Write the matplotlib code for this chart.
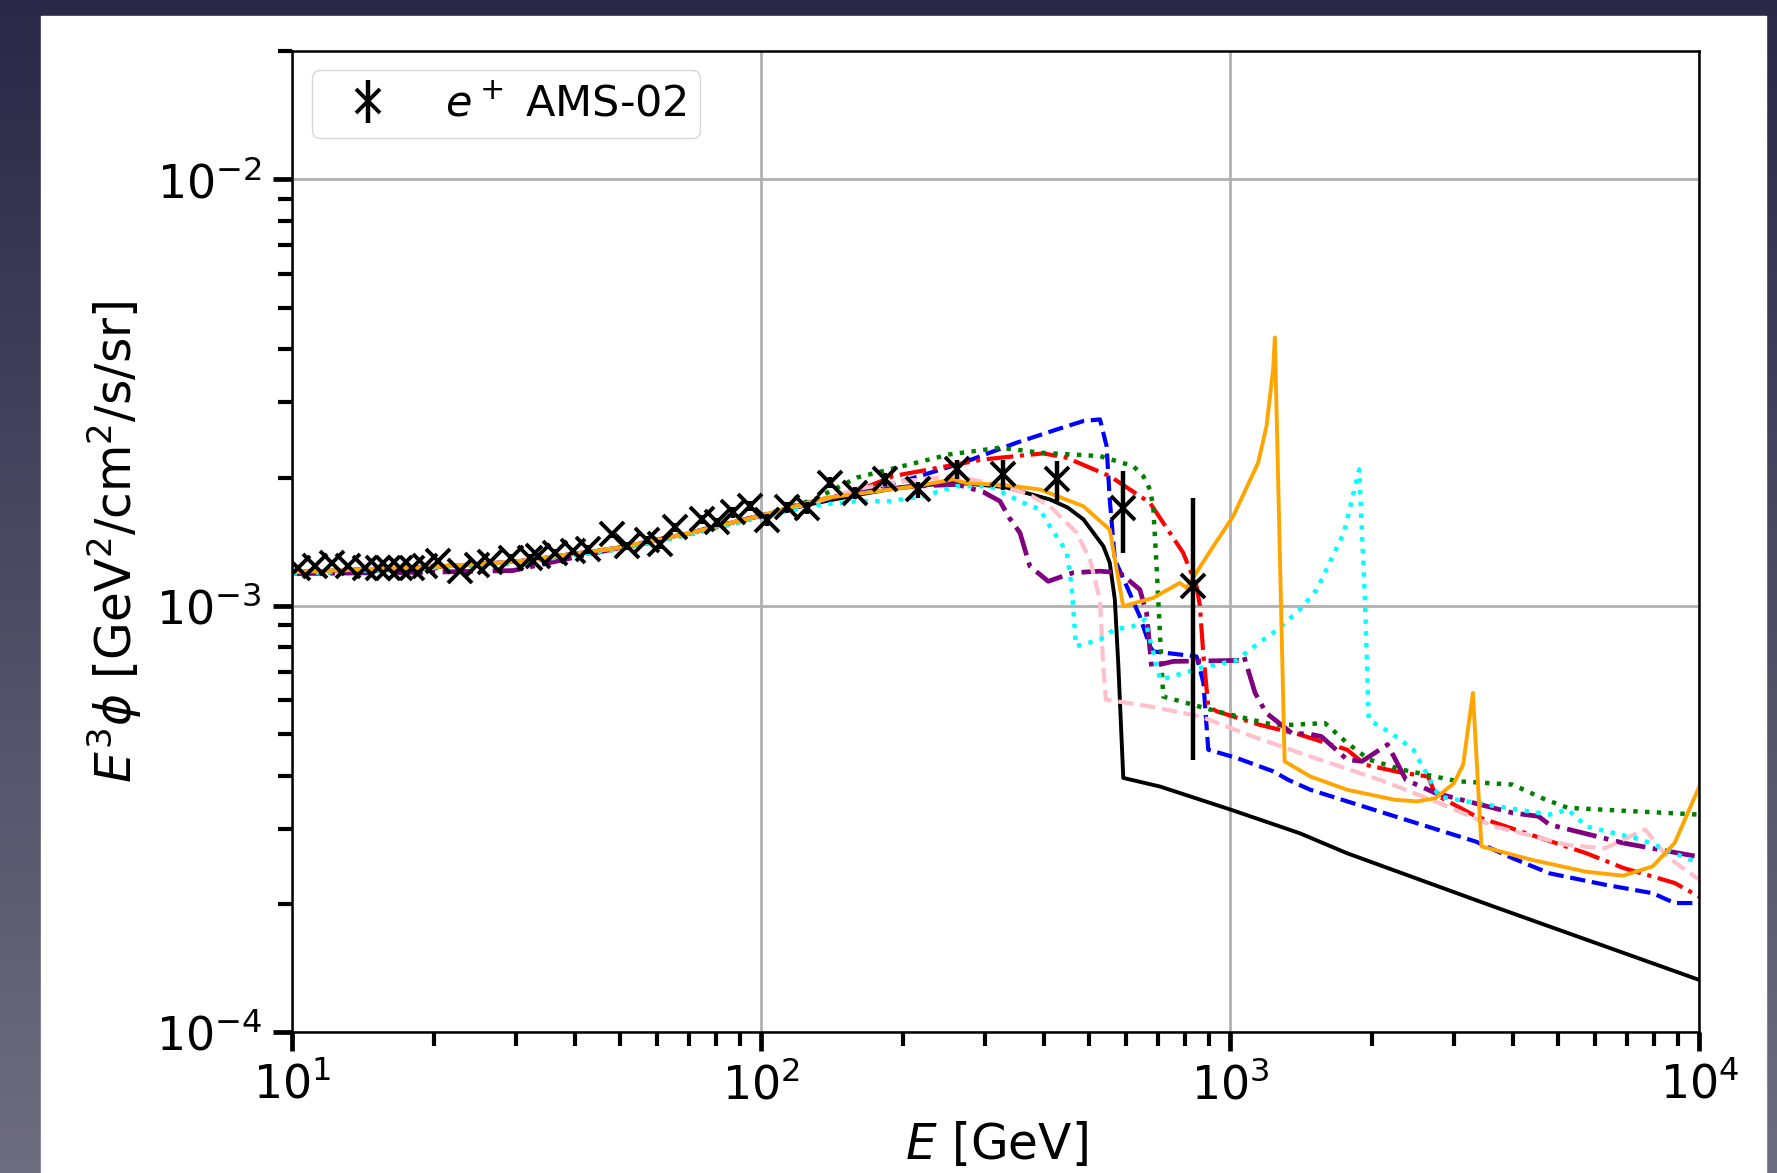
import matplotlib
matplotlib.use("Agg")
import matplotlib.pyplot as plt
import numpy as np
from matplotlib.patches import Rectangle

# AMS-02 positron points (E in GeV, E^3 phi in 1e-3 GeV^2/cm^2/s/sr)
ams_e = [10.29, 11.17, 12.12, 13.15, 14.28, 15.21, 15.98, 16.95, 17.95, 19.17,
         20.43, 22.76, 24.71, 26.37, 29.3, 32.1, 33.4, 36.3, 39.6, 42.7,
         47.9, 51.6, 56.9, 60.8, 65.4, 74.6, 80.3, 86.9, 94.5, 102.6,
         113.2, 124.9, 140.0, 158.3, 183.4, 216.0, 260.8, 327.8, 426.0, 588.9,
         830.6]
ams_phi = [1.230, 1.239, 1.262, 1.239, 1.230, 1.230, 1.230, 1.230, 1.230, 1.239,
           1.273, 1.206, 1.250, 1.264, 1.298, 1.298, 1.307, 1.334, 1.343, 1.356,
           1.471, 1.380, 1.430, 1.393, 1.527, 1.595, 1.569, 1.656, 1.713, 1.590,
           1.701, 1.700, 1.945, 1.842, 1.980, 1.875, 2.089, 2.033, 1.980, 1.698,
           1.112]
ams_err_lo = [0.02, 0.02, 0.02, 0.02, 0.02, 0.02, 0.02, 0.02, 0.02, 0.02,
              0.02, 0.02, 0.02, 0.02, 0.025, 0.025, 0.025, 0.025, 0.025, 0.03,
              0.03, 0.03, 0.03, 0.035, 0.035, 0.04, 0.04, 0.045, 0.045, 0.05,
              0.05, 0.055, 0.06, 0.06, 0.07, 0.08, 0.11, 0.16, 0.22, 0.37,
              0.676]
ams_err_hi = [0.02, 0.02, 0.02, 0.02, 0.02, 0.02, 0.02, 0.02, 0.02, 0.02,
              0.02, 0.02, 0.02, 0.02, 0.025, 0.025, 0.025, 0.025, 0.025, 0.03,
              0.03, 0.03, 0.03, 0.035, 0.035, 0.04, 0.04, 0.045, 0.045, 0.05,
              0.05, 0.055, 0.06, 0.06, 0.07, 0.08, 0.11, 0.17, 0.205, 0.37,
              0.68]

black_e = [10, 20, 30, 50, 70, 100, 130, 160, 200, 260, 330, 412, 450, 486, 536,
           553, 567, 577, 591, 708, 1000, 1406, 1774, 3653, 10000]
black_phi = [1.20, 1.235, 1.27, 1.37, 1.48, 1.63, 1.74, 1.82, 1.90, 1.945, 1.90,
             1.777, 1.70, 1.595, 1.38, 1.262, 1.035, 0.721, 0.395, 0.377, 0.333,
             0.293, 0.263, 0.197, 0.1327]

blue_e = [10, 20, 30, 50, 70, 100, 130, 160, 200, 269, 350, 430, 486, 527, 544.5,
          553, 567, 601, 641, 673.5, 684.5, 847, 876, 897, 1031, 1236, 1328, 1481,
          2125, 3339, 4000, 4791, 6280, 7950, 8857, 10000]
blue_phi = [1.20, 1.235, 1.27, 1.37, 1.48, 1.63, 1.75, 1.86, 1.96, 2.166, 2.413,
            2.60, 2.713, 2.737, 2.37, 1.777, 1.284, 1.112, 0.945, 0.804, 0.782,
            0.761, 0.66, 0.46, 0.44, 0.409, 0.391, 0.3705, 0.327, 0.280, 0.256,
            0.236, 0.222, 0.212, 0.201, 0.201]

red_e = [10, 20, 30, 50, 70, 100, 130, 160, 191, 297, 399, 447.5, 553, 673.5, 793,
         847, 861, 875, 897, 935, 1156, 1406, 1774, 1941, 2326, 2640, 2737, 3339,
         4377, 5741, 6879, 8857, 10000]
red_phi = [1.20, 1.235, 1.27, 1.37, 1.48, 1.63, 1.75, 1.86, 2.015, 2.205, 2.278,
           2.225, 2.015, 1.745, 1.332, 1.112, 1.00, 0.776, 0.581, 0.566, 0.526,
           0.499, 0.46, 0.424, 0.406, 0.398, 0.361, 0.321, 0.2905, 0.263, 0.243,
           0.224, 0.208]

green_e = [10, 20, 30, 50, 70, 100, 130, 160, 194, 252, 322.5, 392.6, 527, 620.6,
           652, 673.5, 684.5, 696, 707.5, 719, 806.5, 935, 1236, 1339, 1591, 1774,
           1977, 2326, 3050, 4000, 4624, 5245, 10000]
green_phi = [1.19, 1.225, 1.26, 1.36, 1.47, 1.62, 1.78, 2.0, 2.109, 2.266, 2.349,
             2.287, 2.245, 2.127, 2.015, 1.875, 1.713, 1.239, 0.864, 0.613, 0.592,
             0.566, 0.526, 0.526, 0.531, 0.477, 0.436, 0.413, 0.388, 0.381, 0.354,
             0.336, 0.324]

purple_e = [10, 20, 29.5, 40, 50, 70, 100, 130, 160, 214, 260.8, 297, 322.5, 338.8,
            355.8, 373.6, 408.8, 462, 527, 581, 641, 662.5, 679, 755, 1048, 1069,
            1129, 1192, 1352, 1481, 1563, 1774, 1908, 2164, 2368, 2737, 4000, 4540,
            4791, 6879, 8238, 10000]
purple_phi = [1.19, 1.20, 1.21, 1.30, 1.37, 1.48, 1.63, 1.76, 1.85, 1.909, 1.927,
              1.85, 1.76, 1.60, 1.484, 1.239, 1.142, 1.196, 1.206, 1.196, 1.092,
              0.963, 0.721, 0.741, 0.745, 0.761, 0.625, 0.561, 0.503, 0.50, 0.494,
              0.436, 0.432, 0.473, 0.391, 0.364, 0.327, 0.321, 0.307, 0.278, 0.268,
              0.258]

pink_e = [10, 20, 30, 50, 70, 100, 130, 160, 200, 260.8, 327.8, 370, 412, 470,
          501.6, 527, 535.6, 542.6, 673.5, 861, 1118, 1406, 2125, 2786, 3653, 5245,
          6280, 6879, 7663, 8543, 10000]
pink_phi = [1.20, 1.235, 1.27, 1.37, 1.48, 1.63, 1.75, 1.88, 1.96, 2.015, 1.909,
            1.83, 1.713, 1.484, 1.284, 1.035, 0.721, 0.603, 0.581, 0.551, 0.494,
            0.452, 0.388, 0.345, 0.304, 0.275, 0.270, 0.283, 0.299, 0.258, 0.228]

cyan_e = [10, 20, 30, 50, 70, 100, 130, 160, 188, 221, 260.8, 307, 361.6, 392.6,
          412, 447.5, 458.6, 468.5, 527, 565, 620.6, 657, 709, 888, 1031, 1100,
          1260, 1406, 1528, 1746, 1882, 1936, 1972, 2203, 2455, 2640, 2786, 3339,
          4791, 5245, 5741, 7530, 10000]
cyan_phi = [1.19, 1.23, 1.26, 1.36, 1.47, 1.62, 1.72, 1.76, 1.76, 1.808, 1.909,
            1.909, 1.745, 1.683, 1.538, 1.34, 1.112, 0.804, 0.833, 0.88, 0.896,
            0.929, 0.671, 0.721, 0.745, 0.79, 0.88, 0.98, 1.092, 1.484, 2.089,
            1.035, 0.541, 0.503, 0.46, 0.398, 0.357, 0.345, 0.324, 0.333, 0.304,
            0.283, 0.249]

orange_e = [10, 20, 30, 50, 70, 100, 137.7, 214, 256.5, 274, 330, 392.6, 485.6,
            553, 572, 590.8, 684.5, 780, 806.5, 900, 1014, 1146, 1194, 1234, 1244,
            1305, 1481, 1774, 2242, 2500, 2737, 2997, 3135, 3290, 3430, 4377, 5741,
            6879, 7950, 8857, 10000]
orange_phi = [1.20, 1.235, 1.27, 1.37, 1.48, 1.63, 1.793, 1.909, 1.98, 1.94, 1.92,
              1.875, 1.713, 1.51, 1.217, 0.998, 1.044, 1.132, 1.102, 1.33, 1.623,
              2.166, 2.64, 3.6, 4.26, 0.432, 0.398, 0.3705, 0.351, 0.348, 0.354,
              0.384, 0.424, 0.625, 0.273, 0.254, 0.238, 0.233, 0.245, 0.278, 0.377]

curves = [
    (black_e, black_phi, "black", "-", 2.8),
    (blue_e, blue_phi, "blue", "--", 3.0),
    (red_e, red_phi, "red", "-.", 3.0),
    (green_e, green_phi, "green", ":", 3.2),
    (purple_e, purple_phi, "purple", "-.", 3.4),
    (pink_e, pink_phi, "pink", "--", 3.0),
    (cyan_e, cyan_phi, "cyan", ":", 3.2),
    (orange_e, orange_phi, "orange", "-", 2.8),
]

fig = plt.figure(figsize=(17.77, 11.73), dpi=100)

# slide-like backdrop with white paper
bg = fig.add_axes([0, 0, 1, 1])
bg.set_zorder(-1)
top = np.array([0.16, 0.16, 0.28])
bottom = np.array([0.43, 0.43, 0.50])
t = np.linspace(0, 1, 256)[:, None]
grad = (top + (bottom - top) * t)[:, None, :]
bg.imshow(grad, extent=[0, 1, 0, 1], aspect="auto", origin="upper")
bg.add_patch(Rectangle((41 / 1777, 0), (1766 - 41) / 1777, 1 - 16 / 1173,
                       color="white", zorder=2))
bg.set_xlim(0, 1)
bg.set_ylim(0, 1)
bg.set_axis_off()

ax = fig.add_axes([0.1646, 0.1199, 0.7917, 0.8366])
for e, p, c, ls, lw in curves:
    ax.plot(e, np.array(p) * 1e-3, color=c, ls=ls, lw=lw)

ax.errorbar(ams_e, np.array(ams_phi) * 1e-3,
            yerr=[np.array(ams_err_lo) * 1e-3, np.array(ams_err_hi) * 1e-3],
            fmt="x", color="black", ms=17, mew=2.8, elinewidth=3.2,
            label=r"$e^+$ AMS-02", zorder=3)

ax.set_xscale("log")
ax.set_yscale("log")
ax.set_xlim(10, 1e4)
ax.set_ylim(1e-4, 2e-2)
ax.grid(True, which="major", color="#b0b0b0", lw=2.0)
ax.set_xlabel(r"$E$ [GeV]", fontsize=35, labelpad=8)
ax.set_ylabel(r"$E^3\phi$ [GeV$^2$/cm$^2$/s/sr]", fontsize=35, labelpad=8)
ax.tick_params(which="major", length=14, width=3.4, labelsize=33, pad=8)
ax.tick_params(which="minor", length=10, width=3.0)
for s in ax.spines.values():
    s.set_linewidth(1.8)
ax.legend(loc="upper left", fontsize=31, borderpad=0.3, borderaxespad=0.45)

fig.savefig("out.png", dpi=100)
